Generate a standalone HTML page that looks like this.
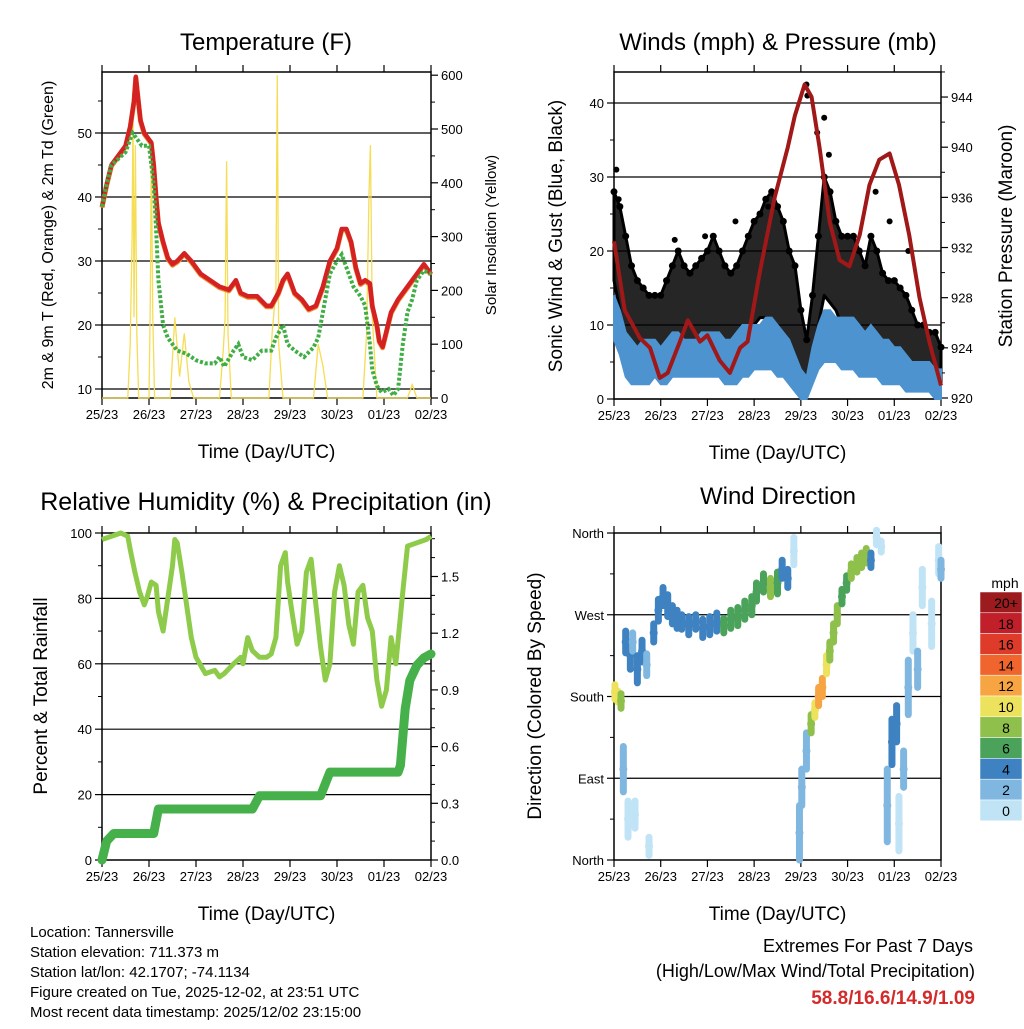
<!DOCTYPE html>
<html><head><meta charset="utf-8"><style>
body{margin:0;background:#fff}
svg text{font-family:"Liberation Sans",Arial,sans-serif;fill:#000}
</style></head><body>
<svg id="s" width="1024" height="1024" viewBox="0 0 1024 1024" xmlns="http://www.w3.org/2000/svg">
<g id="g"></g>
</svg>
<script>
// ---- Data ----
const dayLabels=["25/23","26/23","27/23","28/23","29/23","30/23","01/23","02/23"];
const tempT=[0,0.1,0.2,0.35,0.5,0.6,0.68,0.72,0.76,0.82,0.9,1.0,1.05,1.1,1.15,1.2,1.3,1.4,1.5,1.6,1.75,1.9,2.1,2.3,2.5,2.7,2.85,2.95,3.1,3.3,3.5,3.6,3.75,3.85,3.95,4.0,4.1,4.25,4.4,4.55,4.7,4.85,5.0,5.1,5.2,5.3,5.4,5.5,5.6,5.7,5.75,5.85,5.9,5.97,6.05,6.15,6.3,6.5,6.7,6.85,7.0];
const tempV=[38.5,42,45,46.5,48,51,55,58.8,56,52,50,49,48.5,45,40,36,33,30.5,29.5,30,31.2,30,28,27,26,25.5,27,25,24.5,24.5,23,23,25,27,28,27,25,24,22.5,23,26,30,32,35,35,33,29,26.5,27,26.5,23,20,17.5,16.6,19,22,24,26,28,29.5,28];
const dewT=[0,0.1,0.2,0.35,0.5,0.65,0.75,0.85,1.0,1.1,1.15,1.2,1.3,1.4,1.6,1.8,2.0,2.2,2.4,2.5,2.6,2.8,2.9,3.0,3.2,3.4,3.6,3.7,3.85,3.95,4.1,4.3,4.5,4.6,4.7,4.85,5.0,5.1,5.2,5.35,5.5,5.6,5.7,5.75,5.85,5.95,6.1,6.2,6.3,6.4,6.5,6.6,6.7,6.85,7.0];
const dewV=[38.5,42,45,46,47,50,49,48,48,42,35,27,20,18,16,15.5,14.5,14,14,15,13.5,16,17,15,14.5,16,16,18,20,17,16,15,16.5,18,22,28,30,31,29,26,24.5,23,17,13,10.5,9.5,10,9,10,17,22,24,27,28.5,28];
const solarT=[0,0.55,0.6,0.64,0.66,0.68,0.71,0.74,0.78,1.0,1.03,1.05,1.08,1.12,1.45,1.55,1.65,1.75,1.85,1.95,2.5,2.58,2.62,2.65,2.68,2.75,3.55,3.62,3.7,3.73,3.76,3.85,4.5,4.6,4.7,4.8,5.55,5.63,5.68,5.71,5.75,5.85,6.5,6.6,6.7,7];
const solarV=[0,0,100,300,545,150,470,120,0,0,200,460,150,0,0,150,40,120,30,0,0,90,150,440,120,0,0,120,200,600,100,0,0,100,60,0,0,120,380,470,150,0,0,25,0,0];
const presT=[0,0.23,0.55,0.77,0.98,1.15,1.41,1.58,1.84,2.0,2.26,2.48,2.7,2.86,3.12,3.44,3.72,3.87,4.08,4.23,4.4,4.62,4.83,5.04,5.26,5.47,5.68,5.9,6.1,6.32,6.54,6.75,7.0];
const presV=[932.5,927,924.8,924,921.6,922,924.5,926.2,924.5,925,923,922,924,924.5,930,936,940,942.5,945,944,940,934,931,930.5,933,937,939,939.5,937,933,928,924.5,921];
const gustHi=[28,26,22,18,16,15,14,14,14,16,18,20,18,17,18,19,20,22,20,18,17,18,20,22,24,25,27,28,26,24,20,18,12,8,14,22,30,28,24,22,22,22,20,18,22,20,17,16,16,15,14,12,10,10,9,9,7];
const gustLo=[16,12,6,4,4,5,5,5,4,5,6,7,7,6,8,8,8,8,7,6,5,5,6,8,10,11,11,10,8,7,5,3,1,1,5,10,14,13,12,10,10,10,8,7,7,6,4,4,4,3,2,2,2,3,2,2,2];
const windHi=[14,12,9,8,7,8,8,8,7,8,9,9,8,8,8,9,9,9,9,8,8,9,10,10,10,10,11,11,10,9,8,6,4,3,7,10,12,12,11,11,11,11,10,9,10,9,8,8,7,7,6,5,5,5,5,4,4];
const windLo=[8,6,3,2,2,2,2,3,2,2,3,3,3,3,3,3,3,3,3,2,2,2,3,3,4,4,4,4,3,3,2,1,0,0,2,4,5,5,5,4,4,4,3,3,3,3,2,2,2,2,1,1,1,1,1,0,0];
const gustOutT=[0.05,0.1,1.3,1.95,2.6,3.3,4.12,4.14,4.5,4.35,4.6,5.6,5.9,6.3];
const gustOutV=[31,27,21.5,22,24,26,42.5,41,38,36,33,28,24,20];
const rhT=[0,0.2,0.4,0.55,0.6,0.7,0.8,0.9,0.95,1.05,1.15,1.2,1.3,1.4,1.5,1.55,1.6,1.7,1.8,1.9,2.0,2.2,2.4,2.5,2.6,2.8,2.95,3.0,3.1,3.2,3.35,3.5,3.6,3.7,3.8,3.9,3.95,4.05,4.15,4.25,4.35,4.45,4.55,4.65,4.75,4.85,4.95,5.05,5.15,5.25,5.35,5.45,5.55,5.65,5.75,5.85,5.95,6.05,6.15,6.25,6.4,6.5,6.7,6.9,7.0];
const rhV=[98,99,100,99,95,88,82,78,80,85,84,76,70,80,90,98,97,88,78,68,62,57,58,56,57,60,62,60,68,64,62,62,63,68,90,94,85,75,66,70,88,92,78,65,55,60,82,90,84,72,66,82,84,74,70,55,47,52,68,60,82,96,97,98,99];
const rainT=[0,0.1,0.25,1.1,1.2,3.2,3.35,4.65,4.85,6.3,6.35,6.45,6.55,6.7,6.85,7.0];
const rainV=[0,0.1,0.14,0.14,0.27,0.27,0.34,0.34,0.465,0.465,0.5,0.8,0.95,1.03,1.07,1.09];
const dirT=[0.02,0.08,0.15,0.2,0.25,0.3,0.35,0.4,0.45,0.5,0.6,0.7,0.75,0.85,0.95,1.05,1.15,1.25,1.35,1.45,1.6,1.75,1.9,2.05,2.2,2.35,2.5,2.65,2.8,2.95,3.05,3.2,3.35,3.5,3.6,3.72,3.85,3.97,4.02,4.12,4.22,4.3,4.38,4.46,4.55,4.62,4.7,4.78,4.88,4.98,5.08,5.2,5.3,5.4,5.5,5.62,5.72,5.85,5.95,6.05,6.1,6.2,6.3,6.4,6.5,6.6,6.8,6.95,7.0];
const dirV=[185,180,175,100,240,45,225,240,50,210,230,215,15,250,275,290,280,270,265,262,258,262,255,258,262,258,265,268,275,280,295,305,300,305,320,310,340,30,80,120,150,165,180,190,215,230,250,270,290,305,318,325,330,335,330,355,345,60,130,150,40,100,190,250,210,300,260,330,320];
const dirSpread=[8,6,8,25,12,20,15,10,15,15,12,12,10,10,12,10,12,10,10,8,10,8,10,10,10,8,10,10,10,10,10,10,10,12,10,10,15,30,20,20,10,8,10,10,10,10,10,10,8,8,8,8,8,8,8,8,6,40,25,20,30,20,30,20,20,20,25,15,10];
const dirSpeed=[11,10,9,2,4,1,4,3,1,4,4,3,1,4,5,4,5,4,5,4,5,5,4,4,5,6,6,6,7,7,6,7,8,7,5,5,1,2,2,3,8,10,13,12,10,9,8,8,7,7,8,9,9,8,5,1,1,2,4,4,1,2,2,1,2,1,1,1,2];
const cbLabels=["20+","18","16","14","12","10","8","6","4","2","0"];
const cbColors=["#9b1b1f","#c1202a","#de3b2b","#f0652d","#f7a542","#ede25e","#8fc04b","#4ba35b","#3e82c1","#80b7e1","#c0e4f6"];

// ---- helpers ----
const NS="http://www.w3.org/2000/svg", root=document.getElementById('g');
function mk(tag,attrs,parent,name,inter){const e=document.createElementNS(NS,tag);for(const k in attrs)e.setAttribute(k,attrs[k]);


(parent||root).appendChild(e);return e;}
function txt(x,y,s,size,anchor,name,extra){const t=mk('text',Object.assign({x:x,y:y,'font-size':size,'text-anchor':anchor||'middle'},extra||{}),null,name,false);t.textContent=s;return t;}
function vtxt(x,y,s,size,name){const t=mk('text',{x:0,y:0,'font-size':size,'text-anchor':'middle',transform:`translate(${x},${y}) rotate(-90)`},null,name,false);t.textContent=s;return t;}
function path(xs,ys,fn){return xs.map((t,i)=>(i?'L':'M')+fn.x(t).toFixed(1)+','+fn.y(ys[i]).toFixed(1)).join('');}

function panel(L,R,T,B,name){
  const xs=t=>L+(R-L)*t/7;
  mk('rect',{x:L,y:T,width:R-L,height:B-T,fill:'none',stroke:'#000','stroke-width':1.5},null,name+'-frame',false);
  for(let d=0;d<=7;d++){const x=xs(d);
    mk('line',{x1:x,y1:B,x2:x,y2:B+7,stroke:'#000','stroke-width':1.2},null,name+'-x-tick',false);
    mk('line',{x1:x,y1:T,x2:x,y2:T-7,stroke:'#000','stroke-width':1.2},null,name+'-x-top-tick',false);
    txt(x,B+21,dayLabels[d],13,'middle',name+'-x-tick-label');}
  txt((L+R)/2,B+60,"Time (Day/UTC)",19,'middle',name+'-x-axis-title');
  return xs;
}
function yaxis(L,R,T,B,vals,yf,labels,side,name,grid,minor){
  vals.forEach((v,i)=>{const y=yf(v);
    if(side==='l'){mk('line',{x1:L-7,y1:y,x2:L,y2:y,stroke:'#000','stroke-width':1.2},null,name+'-tick',false);
      txt(L-10,y+5,labels[i],13,'end',name+'-tick-label');
      if(grid)mk('line',{x1:L,y1:y,x2:R,y2:y,stroke:'#000','stroke-width':1.2},null,name+'-gridline',false);}
    else{mk('line',{x1:R,y1:y,x2:R+7,y2:y,stroke:'#000','stroke-width':1.2},null,name+'-tick',false);
      txt(R+10,y+5,labels[i],13,'start',name+'-tick-label');}
  });
  (minor||[]).forEach(v=>{const y=yf(v);const x1=side==='l'?L-4:R,x2=side==='l'?L:R+4;
    mk('line',{x1:x1,y1:y,x2:x2,y2:y,stroke:'#000','stroke-width':1},null,name+'-minor-tick',false);});
}

// ---- Panel 1: Temperature ----
{const L=102,R=431,T=72,B=398;
 const ty=v=>389-(v-10)*6.4, sy=w=>B-w*0.538;
 txt(266,50,"Temperature (F)",24,'middle','temperature-title');
 const xs=panel(L,R,T,B,'temp');
 yaxis(L,R,T,B,[10,20,30,40,50],ty,["10","20","30","40","50"],'l','temp-y',true,[15,25,35,45,55]);
 yaxis(L,R,T,B,[0,100,200,300,400,500,600],sy,["0","100","200","300","400","500","600"],'r','solar-y',false,[50,150,250,350,450,550]);
 mk('path',{d:path(solarT,solarV,{x:xs,y:sy}),fill:'none',stroke:'#f5dd55','stroke-width':1.3},null,'solar-insolation-line',false);
 mk('path',{d:path(tempT,tempV,{x:xs,y:v=>ty(v)+1}),fill:'none',stroke:'#f08a30','stroke-width':5,'stroke-linejoin':'round'},null,'temp-9m-line',false);
 mk('path',{d:path(tempT,tempV,{x:xs,y:ty}),fill:'none',stroke:'#d42222','stroke-width':4.5,'stroke-linejoin':'round'},null,'temp-2m-line',false);
 mk('path',{d:path(dewT,dewV,{x:xs,y:ty}),fill:'none',stroke:'#3fae45','stroke-width':4,'stroke-dasharray':'3 2'},null,'dewpoint-line',false);
 vtxt(53,235,"2m & 9m T (Red, Orange) & 2m Td (Green)",16,'temp-y-axis-title');
 vtxt(496,235,"Solar Insolation (Yellow)",15,'solar-y-axis-title');
}
// ---- Panel 2: Winds ----
{const L=614,R=941,T=72,B=399;
 const wy=w=>B-w*7.4, py=p=>398-(p-920)*12.54;
 txt(778,50,"Winds (mph) & Pressure (mb)",24,'middle','winds-title');
 const xs=panel(L,R,T,B,'wind');
 yaxis(L,R,T,B,[0,10,20,30,40],wy,["0","10","20","30","40"],'l','wind-y',true,[5,15,25,35]);
 yaxis(L,R,T,B,[920,924,928,932,936,940,944],py,["920","924","928","932","936","940","944"],'r','pressure-y',false,[922,926,930,934,938,942,946]);
 const idx=gustHi.map((_,i)=>i/8);
 const band=(hi,lo)=>idx.map((t,i)=>(i?'L':'M')+xs(t).toFixed(1)+','+wy(hi[i]).toFixed(1)).join('')+idx.slice().reverse().map((t,j)=>{const i=idx.length-1-j;return 'L'+xs(t).toFixed(1)+','+wy(lo[i]).toFixed(1);}).join('')+'Z';
 mk('path',{d:band(gustHi,gustLo),fill:'#000','fill-opacity':0.85,stroke:'#000','stroke-width':3,'stroke-linejoin':'round'},null,'gust-scatter-band',false);
 gustHi.forEach((v,i)=>mk('circle',{cx:xs(idx[i]),cy:wy(v),r:3.5,fill:'#000'},null,'gust-point',false));
 gustOutT.forEach((t,i)=>mk('circle',{cx:xs(t),cy:wy(gustOutV[i]),r:3,fill:'#000'},null,'gust-outlier-point',false));
 mk('path',{d:band(windHi,windLo),fill:'#4d93d0',stroke:'#4d93d0','stroke-width':2},null,'sonic-wind-band',false);
 mk('path',{d:path(presT,presV,{x:xs,y:py}),fill:'none',stroke:'#a01818','stroke-width':4,'stroke-linejoin':'round'},null,'pressure-line',false);
 vtxt(562,236,"Sonic Wind & Gust (Blue, Black)",19,'wind-y-axis-title');
 vtxt(1012,236,"Station Pressure (Maroon)",19,'pressure-y-axis-title');
}
// ---- Panel 3: RH & Precip ----
{const L=102,R=431,T=533,B=860;
 const ry=v=>B-v*3.27, py=r=>B-r*189;
 txt(266,510,"Relative Humidity (%) & Precipitation (in)",25,'middle','humidity-title');
 const xs=panel(L,R,T,B,'rh');
 yaxis(L,R,T,B,[0,20,40,60,80,100],ry,["0","20","40","60","80","100"],'l','rh-y',false,[10,30,50,70,90]);
 [20,40,60,80].forEach(v=>mk('line',{x1:L,y1:ry(v),x2:R,y2:ry(v),stroke:'#000','stroke-width':1.2},null,'rh-gridline',false));
 yaxis(L,R,T,B,[0,0.3,0.6,0.9,1.2,1.5],py,["0.0","0.3","0.6","0.9","1.2","1.5"],'r','rain-y',false,[0.1,0.2,0.4,0.5,0.7,0.8,1.0,1.1,1.3,1.4,1.6,1.7]);
 mk('path',{d:path(rhT,rhV,{x:xs,y:ry}),fill:'none',stroke:'#8ecb4a','stroke-width':5,'stroke-linejoin':'round'},null,'humidity-line',false);
 mk('path',{d:path(rainT,rainV,{x:xs,y:py}),fill:'none',stroke:'#46b04a','stroke-width':9,'stroke-linejoin':'round','stroke-linecap':'round'},null,'rainfall-line',false);
 vtxt(47,696,"Percent & Total Rainfall",19,'rh-y-axis-title');
}
// ---- Panel 4: Wind direction ----
{const L=614,R=941,T=533,B=860;
 const dy=d=>B-d*0.9083;
 txt(778,504,"Wind Direction",24,'middle','direction-title');
 const xs=panel(L,R,T,B,'dir');
 yaxis(L,R,T,B,[0,90,180,270,360],dy,["North","East","South","West","North"],'l','dir-y',false,[45,135,225,315]);
 [90,180,270].forEach(v=>mk('line',{x1:L,y1:dy(v),x2:R,y2:dy(v),stroke:'#000','stroke-width':1.2},null,'dir-gridline',false));
 const col=s=>cbColors[10-Math.min(10,Math.floor(s/2))];
 dirT.forEach((t,i)=>{const c=col(dirSpeed[i]);
   mk('line',{x1:xs(t),y1:dy(dirV[i]-dirSpread[i]),x2:xs(t),y2:dy(dirV[i]+dirSpread[i]),stroke:c,'stroke-width':7,'stroke-linecap':'round'},null,'direction-point-cluster',false);
   mk('circle',{cx:xs(t),cy:dy(dirV[i]),r:4,fill:c},null,'direction-point',false);});
 vtxt(541,696,"Direction (Colored By Speed)",19,'dir-y-axis-title');
 txt(1005,588,"mph",14,'middle','colorbar-title');
 const cy0=592,h=20.8;
 cbColors.forEach((c,i)=>{mk('rect',{x:980,y:cy0+i*h,width:42,height:h,fill:c,stroke:'#fff','stroke-width':0.5},null,'colorbar-swatch',false);
   txt(1006,cy0+i*h+16,cbLabels[i],14,'middle','colorbar-label');});
}
// ---- Footer ----
["Location: Tannersville","Station elevation: 711.373 m","Station lat/lon: 42.1707; -74.1134","Figure created on Tue, 2025-12-02, at 23:51 UTC","Most recent data timestamp: 2025/12/02 23:15:00"].forEach((s,i)=>txt(30,937+i*20,s,15,'start','station-info-line'));
txt(973,952,"Extremes For Past 7 Days",18,'end','extremes-title');
txt(975,977,"(High/Low/Max Wind/Total Precipitation)",18,'end','extremes-subtitle');
txt(975,1004,"58.8/16.6/14.9/1.09",19,'end','extremes-values',{'font-weight':'bold',fill:'#d42a2a'}).style.fill='#d42a2a';
</script>
</body></html>
